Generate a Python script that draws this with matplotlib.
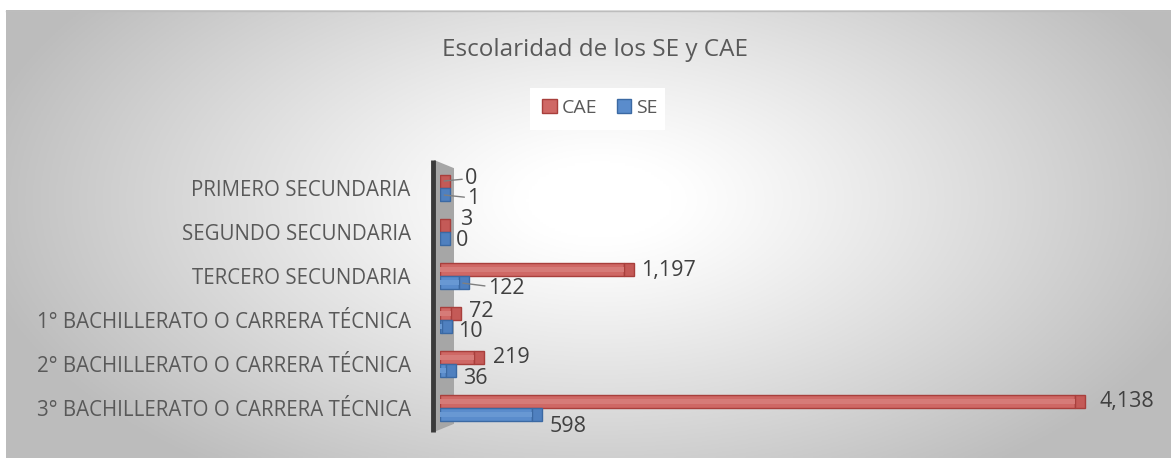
import numpy as np
import matplotlib as mpl
mpl.use('Agg')
import matplotlib.pyplot as plt
import matplotlib.patches as patches

categories = ['3° BACHILLERATO O CARRERA TÉCNICA', '2° BACHILLERATO O CARRERA TÉCNICA',
              '1° BACHILLERATO O CARRERA TÉCNICA', 'TERCERO SECUNDARIA',
              'SEGUNDO SECUNDARIA', 'PRIMERO SECUNDARIA']
cae = [4138, 219, 72, 1197, 3, 0]
se = [598, 36, 10, 122, 0, 1]
title = 'Escolaridad de los SE y CAE'

# label offsets in pixels (dx, dy), tuned by eye
cae_off = [(24, 0), (19, 0), (18, 1.5), (17, -1), (20, 6), (25, 3)]
se_off = [(18, -11.5), (17.5, -7.5), (17, -4.5), (29, -6), (16, -1.5), (27, -3.5)]
cae_leader = [False, False, False, False, False, True]
se_leader = [False, False, False, True, False, True]

W, H = 1171, 458
plt.rcParams['font.family'] = ['Open Sans', 'DejaVu Sans']
fig = plt.figure(figsize=(W / 100, H / 100), dpi=100)
fig.patch.set_facecolor('white')

# radial gradient background
bg = fig.add_axes([6 / W, 0, 1 - 6 / W, 1 - 10 / H], zorder=0)
xx, yy = np.meshgrid(np.linspace(6, W, 400), np.linspace(10, H, 200))
r = np.sqrt(((xx - 600) / 620) ** 2 + ((yy - 200) / 330) ** 2)
g = np.clip(1.0 - 0.26 * np.clip((r - 0.12) / 0.9, 0, 1) ** 1.1, 0.74, 1.0)
bg.imshow(np.dstack([g, g, g]), aspect='auto', extent=[0, 1, 0, 1], origin='upper')
bg.axis('off')
fig.add_artist(plt.Line2D([6 / W, 1], [1 - 10.5 / H, 1 - 10.5 / H], color='#bdbdbd', lw=1))

px0, px1 = 440, 1160
py_bot, py_top = 432, 160
ax = fig.add_axes([px0 / W, 1 - py_bot / H, (px1 - px0) / W, (py_bot - py_top) / H], zorder=2)
ax.set_facecolor('none')
scale = 0.1535  # px per unit
ax.set_xlim(0, (px1 - px0) / scale)
step = 44.0
ax.set_ylim(-24 / step, (py_bot - py_top - 24) / step)
for s in ax.spines.values():
    s.set_visible(False)
ax.set_xticks([])

y = np.arange(len(categories))
h = 0.3
cap = 10 / scale  # depth of the 3d end face
cae_a = np.array(cae)
se_a = np.array(se)
ax.barh(y + h / 2, cae_a, height=h, color='#cf6865', edgecolor='#a83f3c', linewidth=1.0, zorder=3)
ax.barh(y - h / 2, se_a, height=h, color='#5a8ccc', edgecolor='#3b69a3', linewidth=1.0, zorder=3)
ax.barh(y + h / 2, cae_a, height=h * 0.35, color='#d67b78', linewidth=0, zorder=4)
ax.barh(y - h / 2, se_a, height=h * 0.35, color='#6898d3', linewidth=0, zorder=4)
ax.barh(y + h / 2, cap, left=cae_a, height=h, color='#c45a57', edgecolor='#a83f3c', linewidth=1.0, zorder=3)
ax.barh(y - h / 2, cap, left=se_a, height=h, color='#4f80bf', edgecolor='#3b69a3', linewidth=1.0, zorder=3)

ax.set_yticks(y)
ax.set_yticklabels(categories, fontsize=14.8, color='#595959')
ax.tick_params(axis='y', length=0, pad=21)

# side wall
wall = patches.Polygon([(-6 / (px1 - px0), 0.0), (-6 / (px1 - px0), 1.0),
                        (14 / (px1 - px0), 0.97), (14 / (px1 - px0), 0.03)],
                       closed=True, transform=ax.transAxes, facecolor='#a6a6a6',
                       edgecolor='none', clip_on=False, zorder=1)
ax.add_patch(wall)
ax.plot([-7 / (px1 - px0)] * 2, [0.0, 1.0], transform=ax.transAxes, color='#3a3a3a',
        lw=3.5, clip_on=False, zorder=2, solid_capstyle='butt')

lead = dict(arrowstyle='-', color='#7f7f7f', lw=1, shrinkA=0, shrinkB=3)
for i in range(len(categories)):
    dx, dy = cae_off[i]
    ax.annotate(f'{cae[i]:,}', (cae[i], y[i] + h / 2), xytext=(dx, dy),
                textcoords='offset pixels', ha='left', va='center',
                fontsize=15.5, color='#404040', zorder=5,
                arrowprops=lead if cae_leader[i] else None)
    dx, dy = se_off[i]
    ax.annotate(f'{se[i]:,}', (se[i], y[i] - h / 2), xytext=(dx, dy),
                textcoords='offset pixels', ha='left', va='center',
                fontsize=15.5, color='#404040', zorder=5,
                arrowprops=lead if se_leader[i] else None)

fig.text(595 / W, 1 - 50 / H, title, ha='center', va='center', fontsize=17.5, color='#595959')

# legend box
fig.patches.append(patches.Rectangle((530 / W, 1 - 130 / H), 135 / W, 42 / H,
                                     transform=fig.transFigure, facecolor='white',
                                     edgecolor='none', zorder=1))
lh = [patches.Patch(facecolor='#cf6865', edgecolor='#a83f3c', label='CAE'),
      patches.Patch(facecolor='#5a8ccc', edgecolor='#3b69a3', label='SE')]
leg = fig.legend(handles=lh, loc='center', bbox_to_anchor=(600 / W, 1 - 108 / H), ncol=2,
                 frameon=False, fontsize=14, handlelength=0.75, handleheight=0.75,
                 handletextpad=0.25, columnspacing=1.0)
for t in leg.get_texts():
    t.set_color('#595959')

fig.savefig('out.png', dpi=100)
